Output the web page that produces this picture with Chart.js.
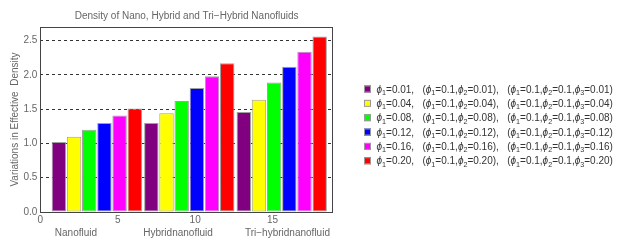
<!DOCTYPE html>
<html><head><meta charset="utf-8">
<script src="https://cdn.jsdelivr.net/npm/chart.js@4/dist/chart.umd.min.js"></script>
<style>html,body{margin:0;padding:0;background:#fff;}canvas{display:block;}</style>
</head><body>
<canvas id="c" width="624" height="251"></canvas>
<script>
// ---- data ----
const groupNames = ['Nanofluid', 'Hybridnanofluid', 'Tri\u2212hybridnanofluid'];
const nano      = [1.02, 1.10, 1.20, 1.30, 1.41, 1.51];
const hybrid    = [1.30, 1.44, 1.62, 1.81, 1.98, 2.17];
const trihybrid = [1.46, 1.64, 1.89, 2.12, 2.34, 2.56];
const phiValues = ['0.01', '0.04', '0.08', '0.12', '0.16', '0.20'];
const xTicks = [0, 5, 10, 15];
const yTicks = [0, 0.5, 1.0, 1.5, 2.0, 2.5];
const titleText = 'Density of Nano, Hybrid and Tri\u2212Hybrid Nanofluids';
const yTitle = 'Variations in Effective  Density';

// ---- layout / style ----
const FONT = "'Liberation Sans', Arial, sans-serif";
const colors = ['#800080', '#ffff00', '#00ff00', '#0000ff', '#ff00ff', '#ff0000'];
const groupStart = [1.2, 7.17, 13.14];
const barPitch = 0.98;
const groupLabelAt = [2.30, 8.89, 15.96];
const PHI = '\u03D5';

const groups = [nano, hybrid, trihybrid];
const legendLabels = phiValues.map(p =>
  `${PHI}_1=${p},   (${PHI}_1=0.1,${PHI}_2=${p}),   (${PHI}_1=0.1,${PHI}_2=0.1,${PHI}_3=${p})`);

const datasets = colors.map((c, s) => ({
  label: legendLabels[s],
  data: groups.map((g, gi) => ({ x: groupStart[gi] + s * barPitch, y: g[s] })),
  backgroundColor: c,
  borderColor: '#a0a0a0',
  borderWidth: 1,
  borderSkipped: false,
  grouped: false,
  categoryPercentage: 1,
  barPercentage: 0.95
}));

const framePlugin = {
  id: 'frame',
  afterDatasetsDraw(chart) {
    const { ctx, chartArea: a } = chart;
    ctx.save();
    ctx.strokeStyle = '#444';
    ctx.lineWidth = 1;
    const l = Math.round(a.left) + 0.5, r = Math.round(a.right) - 0.5;
    const t = Math.round(a.top) + 0.5, b = Math.round(a.bottom) + 0.5;
    ctx.strokeRect(l, t, r - l, b - t);
    ctx.restore();
  }
};

const legendPlugin = {
  id: 'mlegend',
  afterDraw(chart) {
    const ctx = chart.ctx;
    const x0 = 364, y0 = 89, step = 14.35, box = 7;
    const fs = 10;
    ctx.save();
    chart.data.datasets.forEach((ds, i) => {
      const yc = y0 + i * step;
      ctx.fillStyle = ds.backgroundColor;
      ctx.fillRect(x0, yc - box / 2, box, box);
      ctx.strokeStyle = '#999';
      ctx.lineWidth = 1;
      ctx.strokeRect(x0 + 0.5, yc - box / 2 + 0.5, box - 1, box - 1);
      let x = x0 + 12.5;
      const base = yc + 3.5;
      const s = ds.label;
      ctx.fillStyle = '#333';
      ctx.textBaseline = 'alphabetic';
      ctx.textAlign = 'left';
      for (let k = 0; k < s.length; k++) {
        let ch = s[k];
        if (ch === '_') {
          ch = s[++k];
          ctx.font = `${fs * 0.72}px ${FONT}`;
          ctx.fillText(ch, x, base + 2.4);
          x += ctx.measureText(ch).width;
        } else if (ch === PHI) {
          ctx.font = `italic ${fs}px ${FONT}`;
          ctx.fillText(ch, x, base);
          x += ctx.measureText(ch).width;
        } else {
          ctx.font = `${fs}px ${FONT}`;
          ctx.fillText(ch, x, base);
          x += ctx.measureText(ch).width;
        }
      }
    });
    ctx.restore();
  }
};

new Chart(document.getElementById('c'), {
  type: 'bar',
  data: { datasets },
  options: {
    responsive: false,
    animation: false,
    devicePixelRatio: 1,
    layout: { padding: { left: 0, right: 291, top: 0, bottom: 0 } },
    plugins: {
      legend: { display: false },
      tooltip: { enabled: false },
      title: {
        display: true, text: titleText, color: '#666', fullSize: false,
        font: { size: 10, weight: 'normal', family: FONT },
        padding: { top: 10.5, bottom: 4.5 }
      }
    },
    scales: {
      x: {
        type: 'linear', position: 'bottom', weight: 0, min: 0, max: 18.9, offset: false,
        afterBuildTicks: s => { s.ticks = xTicks.map(v => ({ value: v })); },
        afterFit: s => { s.height = 15; },
        grid: { display: false, drawTicks: false, offset: false },
        border: { display: false },
        ticks: { color: '#666', font: { size: 10, family: FONT }, padding: 2.5, maxRotation: 0, autoSkip: false,
                 callback: v => String(v) }
      },
      xg: {
        type: 'linear', position: 'bottom', weight: 1, min: 0, max: 18.9, offset: false,
        afterBuildTicks: s => { s.ticks = groupLabelAt.map(v => ({ value: v })); },
        afterFit: s => { s.height = 24; },
        grid: { display: false, drawTicks: false, offset: false },
        border: { display: false },
        ticks: { color: '#666', font: { size: 10, family: FONT }, padding: 0, maxRotation: 0, autoSkip: false,
                 callback: (v, i) => groupNames[i] }
      },
      y: {
        min: 0, max: 2.7,
        afterBuildTicks: s => { s.ticks = yTicks.map(v => ({ value: v })); },
        afterFit: s => { s.width = 40.3; },
        grid: { color: c => (c.tick && c.tick.value === 0) ? 'rgba(0,0,0,0)' : '#333', drawTicks: false, lineWidth: 1 },
        border: { display: false, dash: [3, 3] },
        ticks: { color: '#666', font: { size: 10, family: FONT }, padding: 3, callback: v => v.toFixed(1) },
        title: { display: true, text: yTitle, color: '#666', font: { size: 10, family: FONT }, padding: { top: 9.5, bottom: 0 } }
      }
    }
  },
  plugins: [framePlugin, legendPlugin]
});
</script>
</body></html>
